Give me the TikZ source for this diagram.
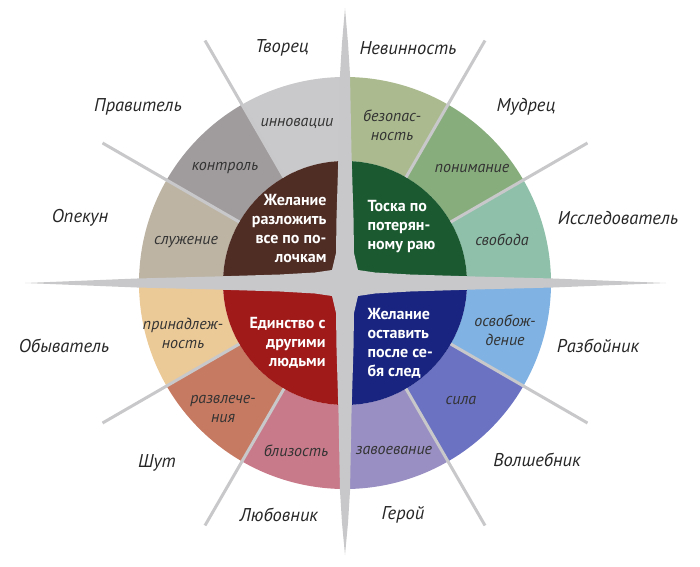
\documentclass[tikz,border=0pt]{standalone}
\usepackage{fontspec}
\setmainfont{PT Sans}
\usepackage{xcolor}
\usepackage{tikz}
\usetikzlibrary{positioning}

\definecolor{innov}{HTML}{C9C9CB}
\definecolor{kontr}{HTML}{A09B9C}
\definecolor{sluzh}{HTML}{BDB4A4}
\definecolor{bezop}{HTML}{ABBB8F}
\definecolor{ponim}{HTML}{88AD7D}
\definecolor{svob}{HTML}{8EC0AA}
\definecolor{osvob}{HTML}{80B3E3}
\definecolor{silac}{HTML}{6B72C2}
\definecolor{zavoe}{HTML}{9A8FC2}
\definecolor{prin}{HTML}{ECCA98}
\definecolor{razvl}{HTML}{C67A62}
\definecolor{bliz}{HTML}{C97A8A}
\definecolor{coreB}{HTML}{4F2C24}
\definecolor{coreG}{HTML}{1B5A31}
\definecolor{coreR}{HTML}{A01A1A}
\definecolor{coreN}{HTML}{18247F}
\definecolor{crossc}{HTML}{C8C8CA}

\begin{document}
\begin{tikzpicture}[x=1pt, y=1pt,
  outer/.style={font=\fontsize{18.5}{22}\selectfont\itshape, text=black!85},
  inner/.style={font=\fontsize{16}{19}\selectfont\itshape, text=black!80, align=center},
  core/.style={font=\fontsize{16}{19}\selectfont\bfseries, text=white},
  sep/.style={draw=crossc, line width=3pt}]
\useasboundingbox (0,0) rectangle (700,566);
% wheel
\begin{scope}[shift={(345,283)}]
\foreach \a/\col in {0/svob,30/ponim,60/bezop,90/innov,120/kontr,150/sluzh,180/prin,210/razvl,240/bliz,270/zavoe,300/silac,330/osvob}
  \fill[\col] (\a:122) arc[start angle=\a, delta angle=30, radius=122] -- (\a+30:206) arc[start angle=\a+30, delta angle=-30, radius=206] -- cycle;
\foreach \a/\col in {0/coreG,90/coreB,180/coreR,270/coreN}
  \fill[\col] (0,0) -- (\a:122) arc[start angle=\a, delta angle=90, radius=122] -- cycle;
\foreach \a in {30,60,120,150,210,240,300,330}
  \draw[sep] (\a:122) -- (\a:280);
% cross
\fill[crossc] (321,0) -- (270,-2) -- (208,-4.5) -- (130,-6.5) -- (65,-8.5) -- (30,-10.5) -- (13,-13)
  -- (9,-30) -- (8.5,-65) -- (6.5,-130) -- (5,-208) -- (3,-240) -- (0,-272)
  -- (-3,-240) -- (-5,-208) -- (-6.5,-130) -- (-8.5,-65) -- (-9,-30) -- (-13,-13)
  -- (-30,-10.5) -- (-65,-8.5) -- (-130,-6.5) -- (-208,-4.5) -- (-270,-2) -- (-320,0)
  -- (-270,2) -- (-208,4.5) -- (-130,6.5) -- (-65,8.5) -- (-30,10.5) -- (-13,13)
  -- (-9,30) -- (-8.5,65) -- (-6.5,130) -- (-5,208) -- (-3,240) -- (0,275)
  -- (3,240) -- (5,208) -- (6.5,130) -- (8.5,65) -- (9,30) -- (13,13)
  -- (30,10.5) -- (65,8.5) -- (130,6.5) -- (208,4.5) -- (270,2) -- cycle;
\end{scope}
% core texts
\node[core, anchor=east, align=right] (order) at (330,337) {Желание\\разложить\\все по по-\\лочкам};
\node[core, anchor=west, align=left] (paradise) at (364,339) {Тоска по\\потерян-\\ному раю};
\node[core, anchor=east, align=right] (unity) at (329,223) {Единство с\\другими\\людьми};
\node[core, anchor=west, align=left] (legacy) at (364,223) {Желание\\оставить\\после се-\\бя след};
% ring texts
\node[inner] (innovation) at (297,443) {инновации};
\node[inner] (control) at (225,398) {контроль};
\node[inner] (service) at (186,324) {служение};
\node[inner] (safety) at (392,441) {безопас-\\ность};
\node[inner] (understanding) at (472,398) {понимание};
\node[inner] (freedom) at (502,326) {свобода};
\node[inner] (belonging) at (183,233) {принадлеж-\\ность};
\node[inner] (fun) at (223,157) {развлече-\\ния};
\node[inner] (intimacy) at (296,115) {близость};
\node[inner] (liberation) at (505,236) {освобож-\\дение};
\node[inner] (power) at (461,166) {сила};
\node[inner] (mastery) at (394,116) {завоевание};
% archetypes
\node[outer] (creator) at (282,518) {Творец};
\node[outer] (ruler) at (138,459) {Правитель};
\node[outer] (caregiver) at (80,348) {Опекун};
\node[outer] (innocent) at (408,518) {Невинность};
\node[outer] (sage) at (526,459) {Мудрец};
\node[outer] (explorer) at (618,348) {Исследователь};
\node[outer] (everyman) at (64,220) {Обыватель};
\node[outer] (jester) at (157,103) {Шут};
\node[outer] (lover) at (279,51) {Любовник};
\node[outer] (outlaw) at (598,220) {Разбойник};
\node[outer] (magician) at (537,106) {Волшебник};
\node[outer] (hero) at (403,51) {Герой};
\end{tikzpicture}
\end{document}
